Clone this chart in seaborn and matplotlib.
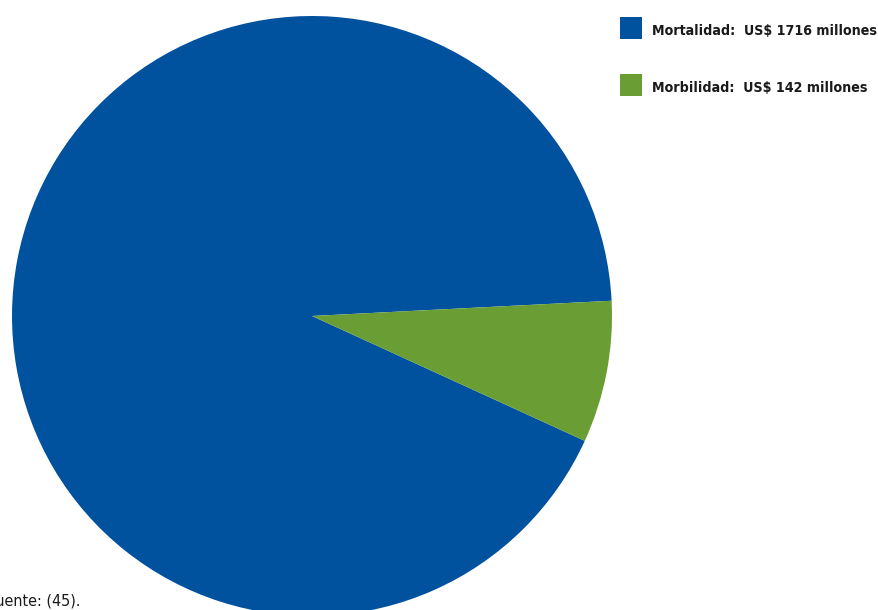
import matplotlib
matplotlib.use("Agg")
import matplotlib.pyplot as plt
from matplotlib import font_manager
from matplotlib.patches import Rectangle
import seaborn as sns

# Economic cost by component (millions of US$)
categories = ["Mortalidad", "Morbilidad"]
values = [1716, 142]
colors = ["#00519E", "#6A9E35"]
source_note = "Fuente: (45)."

sns.set_theme(style="white")
plt.rcParams["font.family"] = ["DejaVu Sans"]

# Prefer a condensed face for the labels when one is installed
cond = [f for f in font_manager.fontManager.ttflist
        if f.name == "DejaVu Sans" and f.stretch == "condensed"]
stretch = "condensed" if cond else "normal"
label_size = 10.2 if cond else 9.0

W, H = 879, 610
fig = plt.figure(figsize=(W / 100, H / 100), dpi=100)
fig.patch.set_facecolor("white")

# Pie: centre (312, 316) px, radius 300 px
cx, cy, r = 312, 316, 300
ax = fig.add_axes([(cx - r) / W, (H - cy - r) / H, 2 * r / W, 2 * r / H])
ax.pie(values, colors=sns.color_palette(colors), startangle=-24.6,
       counterclock=False, radius=1.0,
       wedgeprops=dict(linewidth=0, antialiased=True))
ax.set_xlim(-1, 1)
ax.set_ylim(-1, 1)
ax.set_aspect("equal")
ax.axis("off")

# Legend entries drawn as square swatches plus bold labels
swatch = 22
for i, (name, val, col) in enumerate(zip(categories, values, colors)):
    top = 17 + i * 57
    fig.patches.append(Rectangle((620 / W, (H - top - swatch) / H), swatch / W, swatch / H,
                                 transform=fig.transFigure, facecolor=col,
                                 edgecolor="none"))
    fig.text(652 / W, (H - top - swatch / 2 - 3) / H,
             f"{name}:  US$ {val} millones", fontsize=label_size, fontweight="bold",
             fontstretch=stretch, color="#1a1a1a", ha="left", va="center")

fig.text(-12 / W, 1 / H, source_note, fontsize=11.5 if cond else 10.5,
         fontstretch=stretch, color="#1a1a1a", ha="left", va="bottom")

fig.savefig("out.png", dpi=100, facecolor="white")
